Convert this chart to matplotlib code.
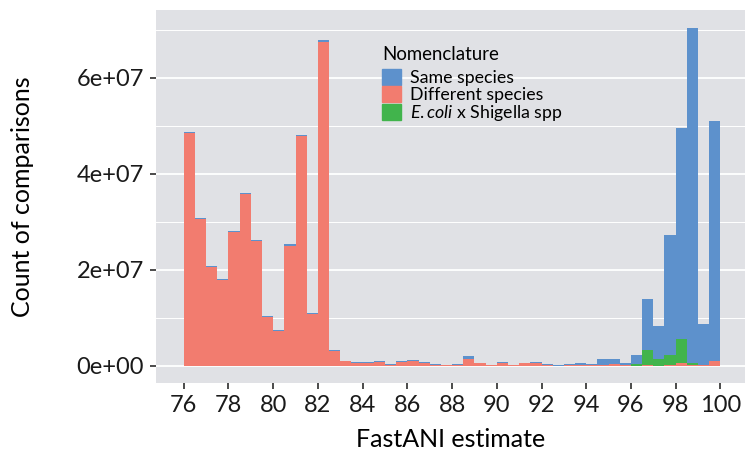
import matplotlib
matplotlib.use("Agg")
import matplotlib.pyplot as plt
from matplotlib.patches import Patch
from matplotlib.ticker import FixedLocator
import numpy as np

# histogram bins: 0.5-wide, left edges from 76 to 99.5
bin_start = 76.0
bin_width = 0.5
n_bins = 48

# counts per bin, units of 1e7
different = [4.84, 3.05, 2.06, 1.79, 2.78, 3.57, 2.59, 1.02, 0.72, 2.50,
             4.78, 1.08, 6.75, 0.30, 0.09, 0.06, 0.06, 0.08, 0.02, 0.08,
             0.10, 0.055, 0.01, 0.005, 0.02, 0.14, 0.05, 0.01, 0.05, 0.01,
             0.05, 0.06, 0.02, 0.003, 0.005, 0.01, 0.02, 0.015, 0.04, 0.005,
             0.0, 0.005, 0.0, 0.02, 0.05, 0.01, 0.005, 0.10]
ecoli_shigella = [0.0] * 39 + [0.005, 0.04, 0.33, 0.13, 0.20, 0.51, 0.04, 0.0, 0.0]
same = [0.02, 0.02, 0.02, 0.02, 0.02, 0.02, 0.02, 0.02, 0.02, 0.03,
        0.03, 0.02, 0.03, 0.02, 0.01, 0.02, 0.02, 0.02, 0.015, 0.02,
        0.02, 0.025, 0.02, 0.01, 0.015, 0.06, 0.01, 0.01, 0.026, 0.01,
        0.01, 0.02, 0.02, 0.017, 0.035, 0.05, 0.015, 0.115, 0.09, 0.045,
        0.19, 1.055, 0.69, 2.51, 4.40, 6.99, 0.865, 4.99]

x_ticks = list(range(76, 101, 2))
y_ticks = [0, 2e7, 4e7, 6e7]
y_tick_labels = ["0e+00", "2e+07", "4e+07", "6e+07"]

RED = "#F27C6F"
BLUE = "#5D91CC"
GREEN = "#41B44C"
PANEL = "#E0E1E5"
FONT = ["Lato", "DejaVu Sans"]

plt.rcParams["font.family"] = FONT
plt.rcParams["mathtext.fontset"] = "custom"
plt.rcParams["mathtext.it"] = "Lato:italic"
plt.rcParams["mathtext.rm"] = "Lato"

fig = plt.figure(figsize=(7.45, 4.5), dpi=100)
ax = fig.add_axes([156 / 745, 1 - 383 / 450, 1 - 156 / 745, 373 / 450])
ax.set_facecolor(PANEL)

left = bin_start + bin_width * np.arange(n_bins)
d = np.array(different) * 1e7
g = np.array(ecoli_shigella) * 1e7
s = np.array(same) * 1e7
ax.bar(left, d, bin_width, align="edge", color=RED, lw=0, zorder=2)
ax.bar(left, g, bin_width, bottom=d, align="edge", color=GREEN, lw=0, zorder=2)
ax.bar(left, s, bin_width, bottom=d + g, align="edge", color=BLUE, lw=0, zorder=2)

ax.set_xlim(74.76, 101.1)
ax.set_ylim(-0.36e7, 7.41e7)
ax.set_xticks(x_ticks)
ax.set_yticks(y_ticks, y_tick_labels)
ax.yaxis.set_minor_locator(FixedLocator([1e7, 3e7, 5e7, 7e7]))
ax.grid(axis="y", which="major", color="white", lw=1.3, zorder=0)
ax.grid(axis="y", which="minor", color="white", lw=0.7, zorder=0)
ax.set_axisbelow(True)
for sp in ax.spines.values():
    sp.set_visible(False)
ax.tick_params(axis="both", which="major", length=4.5, width=1.1,
               color="#1a1a1a", labelsize=17, labelcolor="#1a1a1a", pad=4)
ax.tick_params(axis="y", which="minor", length=0)
ax.set_xlabel("FastANI estimate", fontsize=18, labelpad=9)
ax.set_ylabel("Count of comparisons", fontsize=18, labelpad=31)

# legend: title drawn separately so the gap above the keys matches
fig.text(382 / 745, 1 - 60 / 450, "Nomenclature", fontsize=13.4,
         ha="left", va="baseline")
handles = [Patch(color=BLUE), Patch(color=RED), Patch(color=GREEN)]
labels = ["Same species", "Different species", r"$\it{E{.}coli}$ x Shigella spp"]
leg = fig.legend(handles, labels, loc="upper left",
                 bbox_to_anchor=(381.5 / 745, 1 - 69 / 450), frameon=False,
                 fontsize=12.8, borderpad=0, borderaxespad=0,
                 handlelength=1.12, handleheight=1.03, labelspacing=0,
                 handletextpad=0.5)

fig.savefig("out.png", dpi=100)
